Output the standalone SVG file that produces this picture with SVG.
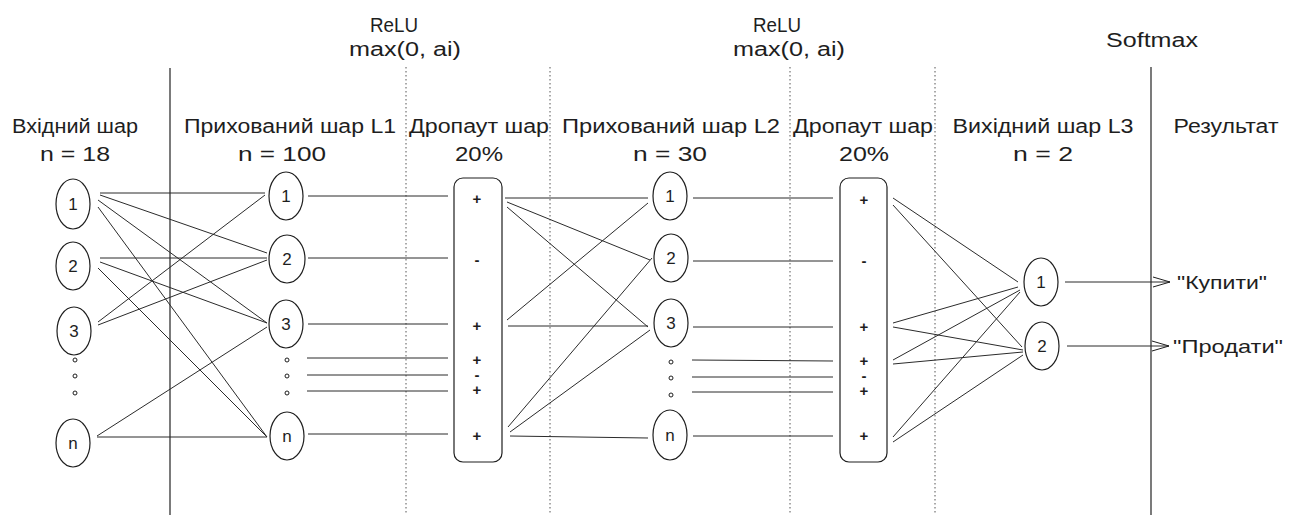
<svg xmlns="http://www.w3.org/2000/svg" width="1297" height="515" viewBox="0 0 1297 515">
<defs>
<style>
text{font-family:"Liberation Sans","DejaVu Sans",sans-serif;fill:#1e1e1e}
.h{font-size:20px;text-anchor:middle}
.num{font-size:17px;text-anchor:middle;dominant-baseline:central}
.sg{font-size:15px;font-weight:bold;text-anchor:middle;dominant-baseline:central}
.lbl{font-size:19px}
.nd{fill:#fff;stroke:#1e1e1e;stroke-width:1.2}
.box{fill:#fff;stroke:#1e1e1e;stroke-width:1.2}
.dot{fill:none;stroke:#1e1e1e;stroke-width:1}
.c{stroke:#2b2b2b;stroke-width:1;fill:none}
.sep{stroke:#333;stroke-width:1.3}
.dsep{stroke:#555;stroke-width:1;stroke-dasharray:1.5 2.5}
</style>
<marker id="ah" markerWidth="18" markerHeight="12" refX="17" refY="6" orient="auto" markerUnits="userSpaceOnUse">
<path d="M0,1 L17,6 L0,11" fill="none" stroke="#1e1e1e" stroke-width="1"/>
</marker>
</defs>
<rect width="1297" height="515" fill="#fff"/>

<g id="separators">
<line class="sep" x1="170" y1="68" x2="170" y2="515"/>
<line class="dsep" x1="406" y1="67" x2="406" y2="515"/>
<line class="dsep" x1="550" y1="67" x2="550" y2="515"/>
<line class="dsep" x1="790" y1="67" x2="790" y2="515"/>
<line class="dsep" x1="935" y1="67" x2="935" y2="515"/>
<line class="sep" x1="1151" y1="67" x2="1151" y2="515"/>
</g>

<g id="headers">
<text class="h" x="394" y="32" textLength="48" lengthAdjust="spacingAndGlyphs">ReLU</text>
<text class="h" x="405" y="56" textLength="112" lengthAdjust="spacingAndGlyphs">max(0, ai)</text>
<text class="h" x="777" y="32" textLength="48" lengthAdjust="spacingAndGlyphs">ReLU</text>
<text class="h" x="789" y="56" textLength="112" lengthAdjust="spacingAndGlyphs">max(0, ai)</text>
<text class="h" x="1152" y="47" textLength="92" lengthAdjust="spacingAndGlyphs">Softmax</text>
<text class="h" x="75" y="133" textLength="126" lengthAdjust="spacingAndGlyphs">Вхідний шар</text>
<text class="h" x="75" y="161" textLength="70" lengthAdjust="spacingAndGlyphs">n = 18</text>
<text class="h" x="290" y="133" textLength="212" lengthAdjust="spacingAndGlyphs">Прихований шар L1</text>
<text class="h" x="282" y="161" textLength="88" lengthAdjust="spacingAndGlyphs">n = 100</text>
<text class="h" x="479" y="133" textLength="140" lengthAdjust="spacingAndGlyphs">Дропаут шар</text>
<text class="h" x="479" y="161" textLength="48" lengthAdjust="spacingAndGlyphs">20%</text>
<text class="h" x="671" y="133" textLength="218" lengthAdjust="spacingAndGlyphs">Прихований шар L2</text>
<text class="h" x="670" y="161" textLength="74" lengthAdjust="spacingAndGlyphs">n = 30</text>
<text class="h" x="863" y="133" textLength="140" lengthAdjust="spacingAndGlyphs">Дропаут шар</text>
<text class="h" x="864" y="161" textLength="50" lengthAdjust="spacingAndGlyphs">20%</text>
<text class="h" x="1043" y="133" textLength="181" lengthAdjust="spacingAndGlyphs">Вихідний шар L3</text>
<text class="h" x="1043" y="161" textLength="60" lengthAdjust="spacingAndGlyphs">n = 2</text>
<text class="h" x="1226" y="133" textLength="105" lengthAdjust="spacingAndGlyphs">Результат</text>
</g>

<g id="connectors">
<!-- input -> L1 -->
<line class="c" x1="100" y1="193" x2="265" y2="193"/>
<line class="c" x1="100" y1="195" x2="267" y2="253"/>
<line class="c" x1="98" y1="200" x2="267" y2="323"/>
<line class="c" x1="98" y1="207" x2="267" y2="437"/>
<line class="c" x1="100" y1="258" x2="267" y2="258"/>
<line class="c" x1="100" y1="262" x2="267" y2="323"/>
<line class="c" x1="98" y1="268" x2="267" y2="437"/>
<line class="c" x1="98" y1="322" x2="265" y2="195"/>
<line class="c" x1="98" y1="325" x2="267" y2="260"/>
<line class="c" x1="97" y1="437" x2="267" y2="437"/>
<line class="c" x1="97" y1="436" x2="267" y2="327"/>
<!-- L1 -> dropout1 -->
<line class="c" x1="308" y1="196" x2="448" y2="196"/>
<line class="c" x1="308" y1="258" x2="448" y2="258"/>
<line class="c" x1="308" y1="324" x2="448" y2="324"/>
<line class="c" x1="307" y1="358" x2="448" y2="358"/>
<line class="c" x1="307" y1="375" x2="448" y2="375"/>
<line class="c" x1="307" y1="391" x2="448" y2="391"/>
<line class="c" x1="308" y1="434" x2="448" y2="434"/>
<!-- dropout1 -> L2 -->
<line class="c" x1="505" y1="198" x2="648" y2="198"/>
<line class="c" x1="507" y1="202" x2="650" y2="260"/>
<line class="c" x1="507" y1="207" x2="648" y2="327"/>
<line class="c" x1="507" y1="320" x2="648" y2="203"/>
<line class="c" x1="508" y1="326" x2="648" y2="326"/>
<line class="c" x1="508" y1="427" x2="652" y2="258"/>
<line class="c" x1="510" y1="432" x2="650" y2="330"/>
<line class="c" x1="510" y1="436" x2="648" y2="438"/>
<!-- L2 -> dropout2 -->
<line class="c" x1="693" y1="198" x2="833" y2="198"/>
<line class="c" x1="693" y1="261" x2="833" y2="261"/>
<line class="c" x1="693" y1="327" x2="833" y2="327"/>
<line class="c" x1="692" y1="360" x2="833" y2="361"/>
<line class="c" x1="692" y1="377" x2="833" y2="377"/>
<line class="c" x1="692" y1="392" x2="833" y2="392"/>
<line class="c" x1="693" y1="436" x2="833" y2="436"/>
<!-- dropout2 -> output -->
<line class="c" x1="893" y1="198" x2="1018" y2="282"/>
<line class="c" x1="893" y1="205" x2="1022" y2="347"/>
<line class="c" x1="893" y1="323" x2="1018" y2="287"/>
<line class="c" x1="893" y1="327" x2="1023" y2="350"/>
<line class="c" x1="893" y1="360" x2="1020" y2="290"/>
<line class="c" x1="893" y1="364" x2="1023" y2="352"/>
<line class="c" x1="893" y1="437" x2="1020" y2="292"/>
<line class="c" x1="893" y1="442" x2="1023" y2="355"/>
<!-- output -> results -->
<line class="c" x1="1065" y1="282" x2="1170" y2="282" marker-end="url(#ah)"/>
<line class="c" x1="1067" y1="346" x2="1169" y2="346" marker-end="url(#ah)"/>
</g>

<g id="input-layer">
<g id="in1"><ellipse class="nd" cx="73" cy="204" rx="17" ry="25"/><text class="num" x="73" y="204">1</text></g>
<g id="in2"><ellipse class="nd" cx="73" cy="266" rx="17" ry="24"/><text class="num" x="73" y="266">2</text></g>
<g id="in3"><ellipse class="nd" cx="74" cy="331" rx="17" ry="24"/><text class="num" x="74" y="331">3</text></g>
<g id="in-dots"><circle class="dot" cx="75" cy="360" r="2"/><circle class="dot" cx="75" cy="376" r="2"/><circle class="dot" cx="75" cy="393" r="2"/></g>
<g id="inN"><ellipse class="nd" cx="73" cy="443" rx="17" ry="24"/><text class="num" x="73" y="443">n</text></g>
</g>

<g id="hidden-l1">
<g id="l1n1"><ellipse class="nd" cx="286" cy="196" rx="17" ry="24"/><text class="num" x="286" y="196">1</text></g>
<g id="l1n2"><ellipse class="nd" cx="287" cy="259" rx="18" ry="24"/><text class="num" x="287" y="259">2</text></g>
<g id="l1n3"><ellipse class="nd" cx="286" cy="324" rx="17" ry="24"/><text class="num" x="286" y="324">3</text></g>
<g id="l1-dots"><circle class="dot" cx="287" cy="360" r="2"/><circle class="dot" cx="287" cy="376" r="2"/><circle class="dot" cx="287" cy="393" r="2"/></g>
<g id="l1nN"><ellipse class="nd" cx="287" cy="436" rx="17" ry="24"/><text class="num" x="287" y="436">n</text></g>
</g>

<g id="dropout1">
<rect class="box" x="454" y="178" width="48" height="284" rx="9"/>
<text class="sg" x="477" y="198">+</text>
<text class="sg" x="477" y="259">-</text>
<text class="sg" x="477" y="325">+</text>
<text class="sg" x="477" y="359">+</text>
<text class="sg" x="477" y="374">-</text>
<text class="sg" x="477" y="389">+</text>
<text class="sg" x="477" y="435">+</text>
</g>

<g id="hidden-l2">
<g id="l2n1"><ellipse class="nd" cx="670" cy="196" rx="17" ry="24"/><text class="num" x="670" y="196">1</text></g>
<g id="l2n2"><ellipse class="nd" cx="671" cy="258" rx="17" ry="24"/><text class="num" x="671" y="258">2</text></g>
<g id="l2n3"><ellipse class="nd" cx="671" cy="323" rx="17" ry="24"/><text class="num" x="671" y="323">3</text></g>
<g id="l2-dots"><circle class="dot" cx="671" cy="362" r="2"/><circle class="dot" cx="671" cy="378" r="2"/><circle class="dot" cx="671" cy="395" r="2"/></g>
<g id="l2nN"><ellipse class="nd" cx="670" cy="435" rx="17" ry="25"/><text class="num" x="670" y="435">n</text></g>
</g>

<g id="dropout2">
<rect class="box" x="840" y="178" width="47" height="284" rx="9"/>
<text class="sg" x="864" y="199">+</text>
<text class="sg" x="864" y="260">-</text>
<text class="sg" x="864" y="326">+</text>
<text class="sg" x="864" y="360">+</text>
<text class="sg" x="864" y="375">-</text>
<text class="sg" x="864" y="390">+</text>
<text class="sg" x="864" y="435">+</text>
</g>

<g id="output-l3">
<g id="o1"><ellipse class="nd" cx="1041" cy="282" rx="17" ry="24"/><text class="num" x="1041" y="282">1</text></g>
<g id="o2"><ellipse class="nd" cx="1042" cy="346" rx="17" ry="24"/><text class="num" x="1042" y="346">2</text></g>
</g>

<g id="results">
<text class="lbl" x="1177" y="289" textLength="90" lengthAdjust="spacingAndGlyphs">"Купити"</text>
<text class="lbl" x="1173" y="353" textLength="110" lengthAdjust="spacingAndGlyphs">"Продати"</text>
</g>
</svg>
